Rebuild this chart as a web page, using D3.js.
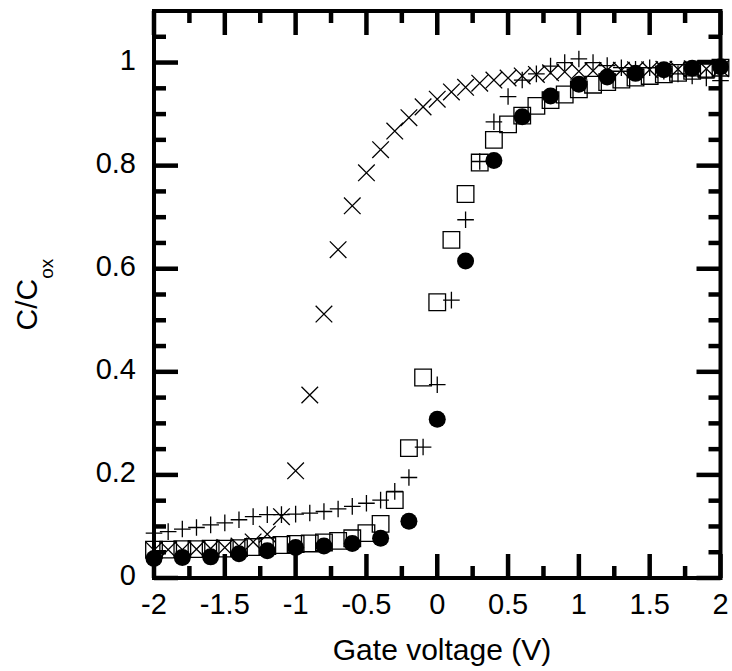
<!DOCTYPE html>
<html>
<head>
<meta charset="utf-8">
<script src="https://cdn.jsdelivr.net/npm/d3@7"></script>
<style>
  body { margin: 0; background: #fff; }
  text { font-family: "Liberation Sans", Arial, Helvetica, sans-serif; fill: #000; }
</style>
</head>
<body>
<div class="canvas"></div>
<script>
// data
const coarseX = [-2, -1.8, -1.6, -1.4, -1.2, -1, -0.8, -0.6, -0.4, -0.2, 0, 0.2, 0.4, 0.6, 0.8, 1, 1.2, 1.4, 1.6, 1.8, 2];
const circleY = [0.038, 0.040, 0.041, 0.047, 0.053, 0.059, 0.062, 0.067, 0.077, 0.110, 0.308, 0.615, 0.810, 0.895, 0.935, 0.958, 0.972, 0.979, 0.986, 0.989, 0.992];

const fineX = [-2, -1.9, -1.8, -1.7, -1.6, -1.5, -1.4, -1.3, -1.2, -1.1, -1, -0.9, -0.8, -0.7, -0.6, -0.5, -0.4, -0.3, -0.2, -0.1, 0,
               0.1, 0.2, 0.3, 0.4, 0.5, 0.6, 0.7, 0.8, 0.9, 1, 1.1, 1.2, 1.3, 1.4, 1.5, 1.6, 1.7, 1.8, 1.9, 2];
const squareY = [0.055, 0.055, 0.056, 0.056, 0.057, 0.057, 0.058, 0.060, 0.062, 0.064, 0.066, 0.067, 0.069, 0.072, 0.077, 0.087, 0.105, 0.151, 0.252, 0.389, 0.535,
                 0.656, 0.745, 0.806, 0.850, 0.880, 0.897, 0.916, 0.927, 0.938, 0.948, 0.957, 0.962, 0.967, 0.971, 0.974, 0.977, 0.980, 0.984, 0.988, 0.990];
const plusY = [0.087, 0.090, 0.095, 0.098, 0.103, 0.107, 0.113, 0.119, 0.123, 0.123, 0.124, 0.126, 0.129, 0.134, 0.139, 0.145, 0.151, 0.168, 0.195, 0.254, 0.375,
               0.539, 0.695, 0.808, 0.885, 0.934, 0.966, 0.978, 0.993, 1.000, 1.007, 1.000, 0.994, 0.990, 0.987, 0.990, 0.983, 0.978, 0.974, 0.970, 0.965];
const timesY = [0.054, 0.055, 0.055, 0.056, 0.057, 0.059, 0.062, 0.070, 0.085, 0.119, 0.208, 0.355, 0.512, 0.637, 0.722, 0.786, 0.831, 0.867, 0.893, 0.914, 0.929,
                0.943, 0.952, 0.960, 0.966, 0.970, 0.974, 0.977, 0.980, 0.982, 0.983, 0.984, 0.985, 0.985, 0.986, 0.986, 0.987, 0.987, 0.988, 0.988, 0.988];

const xMajor = [-2, -1.5, -1, -0.5, 0, 0.5, 1, 1.5, 2];
const xLabels = ['-2', '-1.5', '-1', '-0.5', '0', '0.5', '1', '1.5', '2'];
const xMinor = [-1.75, -1.25, -0.75, -0.25, 0.25, 0.75, 1.25, 1.75];
const yMajor = [0, 0.2, 0.4, 0.6, 0.8, 1];
const yLabels = ['0', '0.2', '0.4', '0.6', '0.8', '1'];
const yMinor = [0.05, 0.1, 0.15, 0.25, 0.3, 0.35, 0.45, 0.5, 0.55, 0.65, 0.7, 0.75, 0.85, 0.9, 0.95, 1.05];

const dims = { width: 732, height: 671 };
const plot = { left: 154, right: 720.5, top: 11, bottom: 578 };
const tickLen = { major: 24, minor: 12 };

const svg = d3.select('.canvas')
    .append('svg')
    .attr('width', dims.width)
    .attr('height', dims.height);

const x = d3.scaleLinear().domain([-2, 2]).range([plot.left, plot.right]);
const y = d3.scaleLinear().domain([0, 1.1]).range([plot.bottom, plot.top]);

// tick labels
svg.append('g').selectAll('text')
    .data(xMajor)
    .enter()
    .append('text')
        .attr('x', d => x(d))
        .attr('y', plot.bottom + 36)
        .attr('text-anchor', 'middle')
        .attr('font-size', 29)
        .text((d, i) => xLabels[i]);

svg.append('g').selectAll('text')
    .data(yMajor)
    .enter()
    .append('text')
        .attr('x', plot.left - 18)
        .attr('y', d => y(d) + 7)
        .attr('text-anchor', 'end')
        .attr('font-size', 29)
        .text((d, i) => yLabels[i]);

// markers
const graph = svg.append('g');
const half = 8.3;

const squarePath = `M${-half},${-half}H${half}V${half}H${-half}Z`;
const plusPath = `M${-half},0H${half}M0,${-half}V${half}`;
const timesPath = `M${-half},${-half}L${half},${half}M${-half},${half}L${half},${-half}`;

const drawSeries = (xs, ys, path) => {
    graph.append('g').selectAll('path')
        .data(xs.map((v, i) => ({ x: v, y: ys[i] })))
        .enter()
        .append('path')
            .attr('d', path)
            .attr('transform', d => `translate(${x(d.x)}, ${y(d.y)})`)
            .attr('fill', 'none')
            .attr('stroke', '#000')
            .attr('stroke-width', 1.3);
}

drawSeries(fineX, squareY, squarePath);
drawSeries(fineX, timesY, timesPath);
drawSeries(fineX, plusY, plusPath);

graph.append('g').selectAll('circle')
    .data(coarseX.map((v, i) => ({ x: v, y: circleY[i] })))
    .enter()
    .append('circle')
        .attr('cx', d => x(d.x))
        .attr('cy', d => y(d.y))
        .attr('r', 8.5)
        .attr('fill', '#000');

// frame
svg.append('rect')
    .attr('x', plot.left)
    .attr('y', plot.top)
    .attr('width', plot.right - plot.left)
    .attr('height', plot.bottom - plot.top)
    .attr('fill', 'none')
    .attr('stroke', '#000')
    .attr('stroke-width', 4);

// inward ticks on all four sides, drawn last
const xTicks = [...xMajor.map(v => ({ v, len: tickLen.major })), ...xMinor.map(v => ({ v, len: tickLen.minor }))];
const yTicks = [...yMajor.map(v => ({ v, len: tickLen.major })), ...yMinor.map(v => ({ v, len: tickLen.minor }))];

const tickG = svg.append('g')
    .attr('stroke', '#000')
    .attr('stroke-width', 4.5)
    .attr('stroke-linecap', 'butt');

[plot.bottom, plot.top].forEach(edge => {
    const dir = edge === plot.bottom ? -1 : 1;
    xTicks.forEach(d => {
        tickG.append('line')
            .attr('x1', x(d.v)).attr('x2', x(d.v))
            .attr('y1', edge).attr('y2', edge + dir * d.len);
    });
});
[plot.left, plot.right].forEach(edge => {
    const dir = edge === plot.left ? 1 : -1;
    yTicks.forEach(d => {
        tickG.append('line')
            .attr('y1', y(d.v)).attr('y2', y(d.v))
            .attr('x1', edge).attr('x2', edge + dir * d.len);
    });
});

// axis titles
svg.append('text')
    .attr('x', 442)
    .attr('y', 660)
    .attr('text-anchor', 'middle')
    .attr('font-size', 30)
    .text('Gate voltage (V)');

const yTitle = svg.append('text')
    .attr('transform', `translate(37, ${(plot.top + plot.bottom) / 2}) rotate(-90)`)
    .attr('text-anchor', 'middle')
    .attr('font-size', 30);
yTitle.append('tspan').text('C/C');
yTitle.append('tspan').attr('dy', 16).attr('font-size', 19).text('ox');
</script>
</body>
</html>
